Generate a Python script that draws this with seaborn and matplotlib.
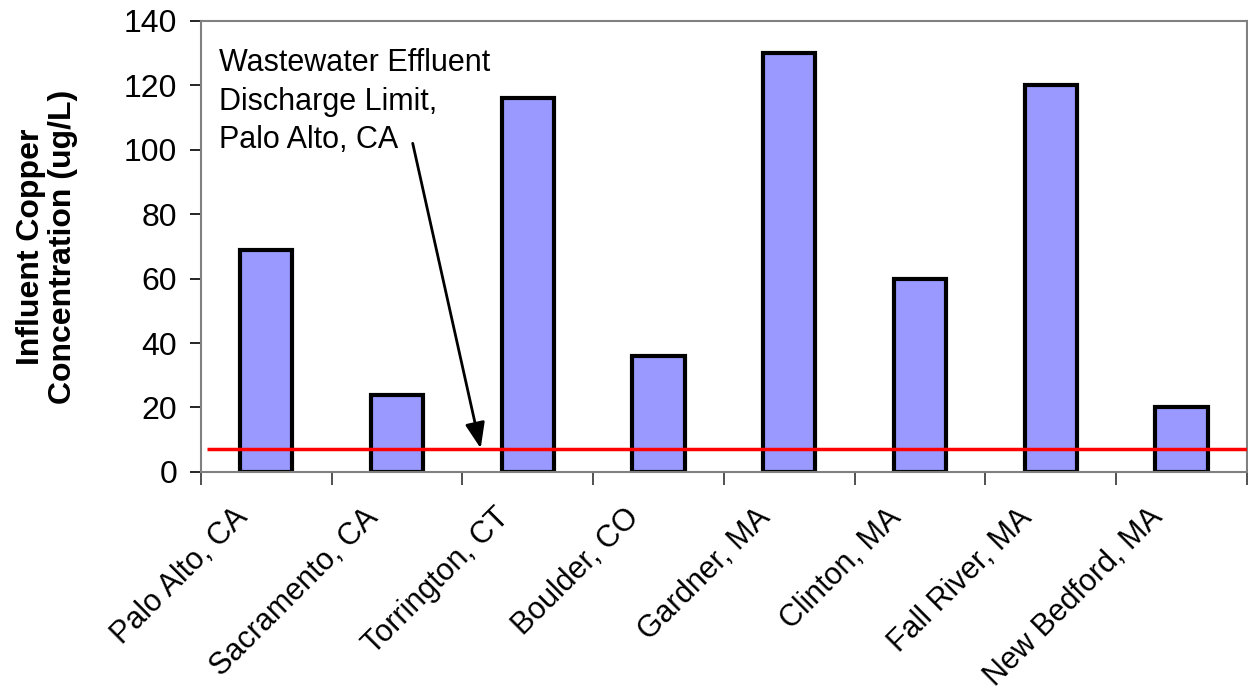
import matplotlib
matplotlib.use("Agg")
import matplotlib.pyplot as plt
import pandas as pd
import seaborn as sns
from matplotlib.ticker import FixedLocator

cities = ['Palo Alto, CA', 'Sacramento, CA', 'Torrington, CT', 'Boulder, CO',
          'Gardner, MA', 'Clinton, MA', 'Fall River, MA', 'New Bedford, MA']
copper = [69, 24, 116, 36, 130, 60, 120, 20]
limit = 7

df = pd.DataFrame({'City': cities, 'Copper': copper})

sns.set_theme(style='white')
plt.rcParams['font.family'] = ['Liberation Sans', 'DejaVu Sans']
plt.rcParams['text.color'] = 'black'
plt.rcParams['axes.labelcolor'] = 'black'
plt.rcParams['xtick.color'] = 'black'
plt.rcParams['ytick.color'] = 'black'

fig, ax = plt.subplots(figsize=(12.48, 6.96), dpi=100)
fig.subplots_adjust(left=0.161, right=0.999, top=0.97, bottom=0.322)

sns.barplot(data=df, x='City', y='Copper', color='#9999FF', saturation=1,
            width=0.4, edgecolor='black', linewidth=3, ax=ax)

ax.hlines(limit, -0.45, len(cities) - 0.5, color='#FF0000', linewidth=2.5, zorder=3)

# label and arrow for the discharge limit
ax.text(-0.363, 131.5, 'Wastewater Effluent\nDischarge Limit,\nPalo Alto, CA',
        fontsize=22, ha='left', va='top', linespacing=1.36)
ax.annotate('', xy=(1.64, 7.3), xytext=(1.12, 102),
            arrowprops=dict(arrowstyle='-|>,head_length=1.3,head_width=0.5',
                            color='black', lw=2, shrinkA=0, shrinkB=0))

ax.set_xlim(-0.5, len(cities) - 0.5)
ax.set_ylim(0, 140)
ax.set_yticks(range(0, 141, 20))
ax.set_xlabel('')
ax.set_ylabel('Influent Copper\nConcentration (ug/L)', fontsize=23,
              fontweight='bold', labelpad=33, linespacing=1.1)

# rotated labels sit left of each category centre, like Excel
ax.set_xticks([i - 0.26 for i in range(len(cities))])
ax.set_xticklabels(cities, rotation=45, ha='right', rotation_mode='anchor',
                   fontsize=22)
ax.tick_params(axis='x', which='major', length=0, pad=22)
ax.xaxis.set_minor_locator(FixedLocator([i - 0.5 for i in range(len(cities) + 1)]))
ax.tick_params(axis='x', which='minor', bottom=True, length=9, width=1.2,
               color='#333333', direction='out')
ax.tick_params(axis='y', left=True, length=8, width=1.2, color='black',
               direction='out', labelsize=23, pad=9)

for side in ['top', 'right', 'bottom', 'left']:
    ax.spines[side].set_visible(True)
    ax.spines[side].set_color('#808080')
    ax.spines[side].set_linewidth(1.5)

fig.savefig('out.png', dpi=100)
